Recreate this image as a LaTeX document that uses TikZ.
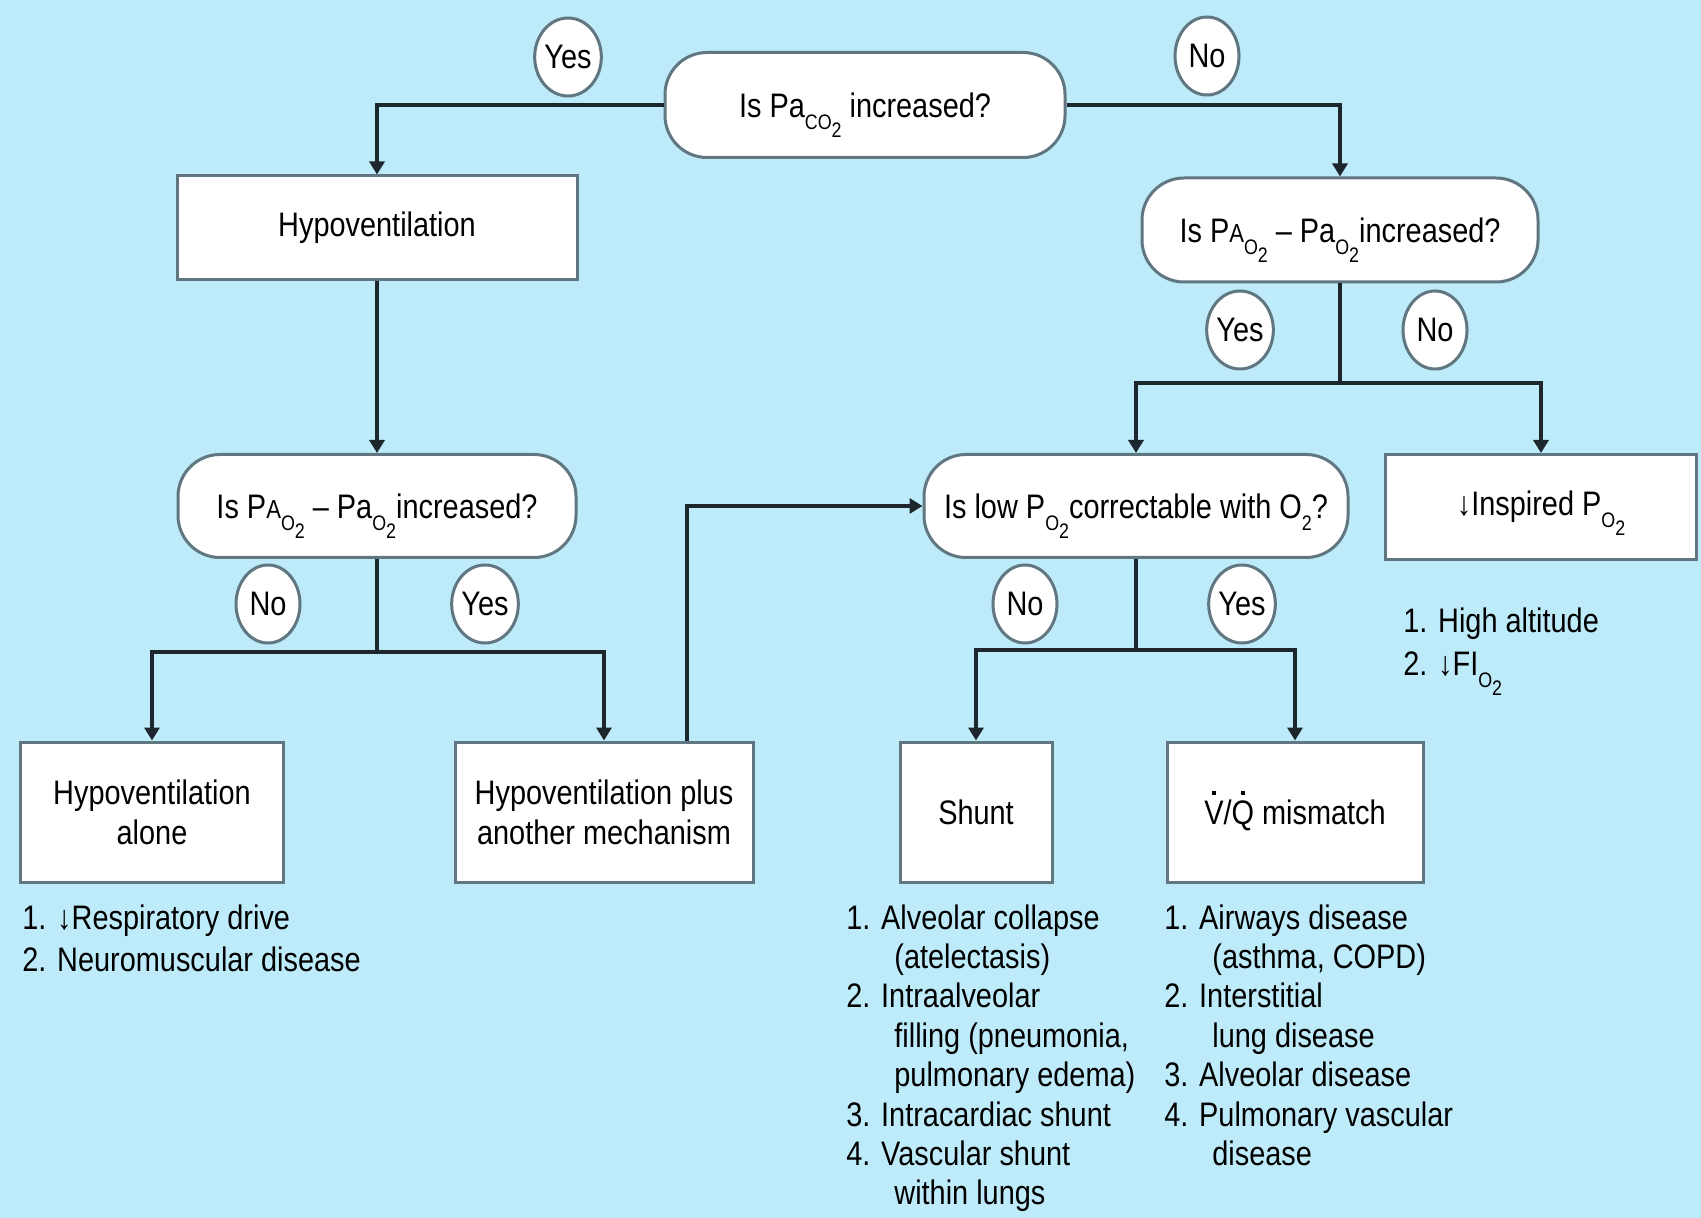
\documentclass[tikz,border=0pt]{standalone}
\usepackage{fontspec}
\setmainfont{Liberation Sans}[FakeStretch=0.85]
\usetikzlibrary{arrows.meta,shapes.geometric}
\definecolor{bgc}{RGB}{190,235,250}
\definecolor{edgec}{RGB}{96,118,128}
\definecolor{linec}{RGB}{28,38,44}
\newcommand\sbA[1]{\smash{\raisebox{-6pt}{\fontsize{10.5}{10.5}\selectfont #1}}}
\newcommand\sbB[1]{\raisebox{-4pt}{\fontsize{10.5}{10.5}\selectfont #1}}
\newcommand\smA{{\fontsize{13}{13}\selectfont A}}
\newcommand\dotv[1]{\ooalign{#1\cr\hidewidth\raisebox{0.86em}{\rule{1.9pt}{1.9pt}}\hidewidth\cr}}
\begin{document}
\begin{tikzpicture}[x=0.5pt,y=-0.5pt,
 every node/.style={font=\fontsize{17}{20}\selectfont, text=black},
 oval/.style={draw=edgec, line width=1.5pt, fill=white, rounded corners=21pt, inner sep=0pt, align=center},
 box/.style={draw=edgec, line width=1.5pt, fill=white, inner sep=0pt, align=center},
 yn/.style={draw=edgec, line width=1.5pt, fill=white, ellipse, minimum width=32pt, minimum height=39pt, inner sep=0pt},
 conn/.style={draw=linec, line width=1.8pt},
 arr/.style={conn, -{Triangle[width=7.5pt,length=6.5pt]}},
 lst/.style={anchor=north west, inner sep=0pt, align=left}]
\fill[bgc] (0,0) rectangle (1701,1218);
\useasboundingbox (0,0) rectangle (1701,1218);

\node[oval, minimum width=200pt, minimum height=52.5pt] (q1) at (865,105) {Is Pa\sbA{CO\sbB{2}} increased?};
\node[box, minimum width=200pt, minimum height=52pt] (hypo) at (377,228) {Hypoventilation};
\node[oval, minimum width=199pt, minimum height=51.5pt] (q3) at (377,506) {Is P\smA\sbA{O\sbB{2}} -- Pa\sbA{O\sbB{2}}increased?};
\node[oval, minimum width=198pt, minimum height=52pt] (q2) at (1340,230) {Is P\smA\sbA{O\sbB{2}} -- Pa\sbA{O\sbB{2}}increased?};
\node[oval, minimum width=212pt, minimum height=51.5pt] (q4) at (1136,506) {Is low P\sbA{O\sbB{2}}correctable with O\sbA{2}?};
\node[box, minimum width=155.5pt, minimum height=52.5pt] (insp) at (1541,507) {↓Inspired P\sbA{O\sbB{2}}};
\node[box, minimum width=131.5pt, minimum height=70pt] (alone) at (152,812) {Hypoventilation\\alone};
\node[box, minimum width=149pt, minimum height=70pt] (plus) at (604,812) {Hypoventilation plus\\another mechanism};
\node[box, minimum width=76pt, minimum height=70pt] (shunt) at (976,812) {Shunt};
\node[box, minimum width=128pt, minimum height=70pt] (vq) at (1295,812) {\dotv{V}/\dotv{Q} mismatch};

\node[yn] (y1) at (568,57) {Yes};
\node[yn] (n1) at (1207,56) {No};
\node[yn] (y2) at (1240,330) {Yes};
\node[yn] (n2) at (1435,330) {No};
\node[yn] (n3) at (268,604) {No};
\node[yn] (y3) at (485,604) {Yes};
\node[yn] (n4) at (1025,604) {No};
\node[yn] (y4) at (1242,604) {Yes};

\coordinate (j1) at (377,652);
\coordinate (j2) at (1340,383);
\coordinate (j3) at (1136,650);

\draw[arr] (q1.west) -| (hypo.north);
\draw[arr] (q1.east) -| (q2.north);
\draw[arr] (hypo.south) -- (q3.north);
\draw[conn] (q3.south) -- (j1);
\draw[arr] (j1) -| (alone.north);
\draw[arr] (j1) -| (plus.north);
\draw[conn] (q2.south) -- (j2);
\draw[arr] (j2) -| (q4.north);
\draw[arr] (j2) -| (insp.north);
\draw[conn] (q4.south) -- (j3);
\draw[arr] (j3) -| (shunt.north);
\draw[arr] (j3) -| (vq.north);
\draw[arr] ([xshift=41.5pt]plus.north) |- (q4.west);

\node[lst, font=\fontsize{17}{21}\selectfont] (l1) at (22,904) {1. ↓Respiratory drive\\2. Neuromuscular disease};
\node[lst, font=\fontsize{17}{19.7}\selectfont] (l2) at (846,904) {1. Alveolar collapse\\\hspace*{24pt}(atelectasis)\\2. Intraalveolar\\\hspace*{24pt}filling (pneumonia,\\\hspace*{24pt}pulmonary edema)\\3. Intracardiac shunt\\4. Vascular shunt\\\hspace*{24pt}within lungs};
\node[lst, font=\fontsize{17}{19.7}\selectfont] (l3) at (1164,904) {1. Airways disease\\\hspace*{24pt}(asthma, COPD)\\2. Interstitial\\\hspace*{24pt}lung disease\\3. Alveolar disease\\4. Pulmonary vascular\\\hspace*{24pt}disease};
\node[lst, font=\fontsize{17}{21.5}\selectfont] (l4) at (1403,607) {1. High altitude\\2. ↓FI\sbA{O\sbB{2}}};
\end{tikzpicture}
\end{document}
